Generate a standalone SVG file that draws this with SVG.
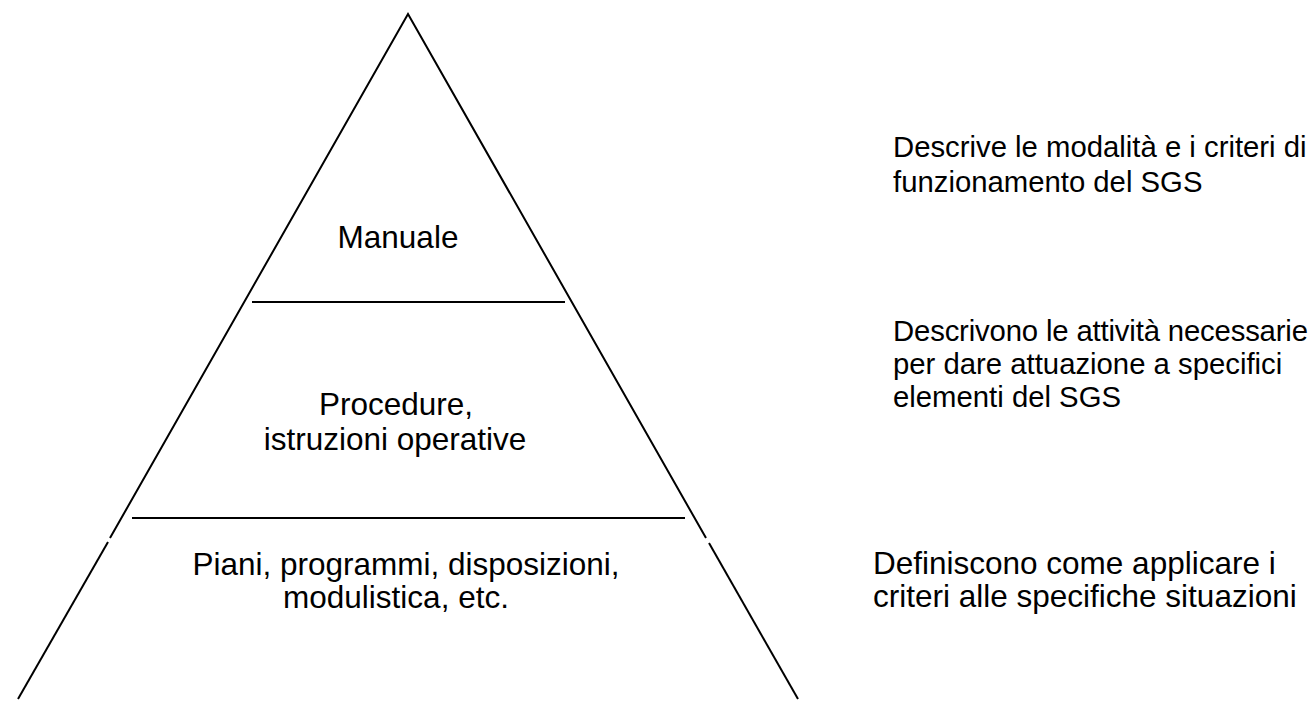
<svg xmlns="http://www.w3.org/2000/svg" width="1310" height="705" viewBox="0 0 1310 705">
<style>
.ln{stroke:#000;stroke-width:2;fill:none}
.t{font-family:"Liberation Sans",Arial,sans-serif;font-size:31.5px;fill:#000}
.r{font-size:29.3px}
.c{text-anchor:middle}
</style>
<rect width="1310" height="705" fill="#fff"/>
<g id="connectors">
<polyline class="ln" points="110,538 408,14 706,538"/>
<line class="ln" x1="108" y1="542" x2="18" y2="699"/>
<line class="ln" x1="709" y1="543" x2="798" y2="699"/>
<line class="ln" x1="252" y1="302" x2="565" y2="302"/>
<line class="ln" x1="132" y1="518" x2="685" y2="518"/>
</g>
<g id="manuale"><text class="t c" x="398" y="248">Manuale</text></g>
<g id="procedure"><text class="t c" x="396" y="415">Procedure,</text><text class="t c" x="395" y="450">istruzioni operative</text></g>
<g id="piani"><text class="t c" x="406" y="575">Piani, programmi, disposizioni,</text><text class="t c" x="396" y="608">modulistica, etc.</text></g>
<g id="desc1"><text class="t r" x="893" y="157">Descrive le modalità e i criteri di</text><text class="t r" x="893" y="192">funzionamento del SGS</text></g>
<g id="desc2"><text class="t r" x="893" y="341" textLength="415">Descrivono le attività necessarie</text><text class="t r" x="893" y="374">per dare attuazione a specifici</text><text class="t r" x="893" y="407">elementi del SGS</text></g>
<g id="desc3"><text class="t" x="873" y="574">Definiscono come applicare i</text><text class="t" x="873" y="607">criteri alle specifiche situazioni</text></g>
</svg>
